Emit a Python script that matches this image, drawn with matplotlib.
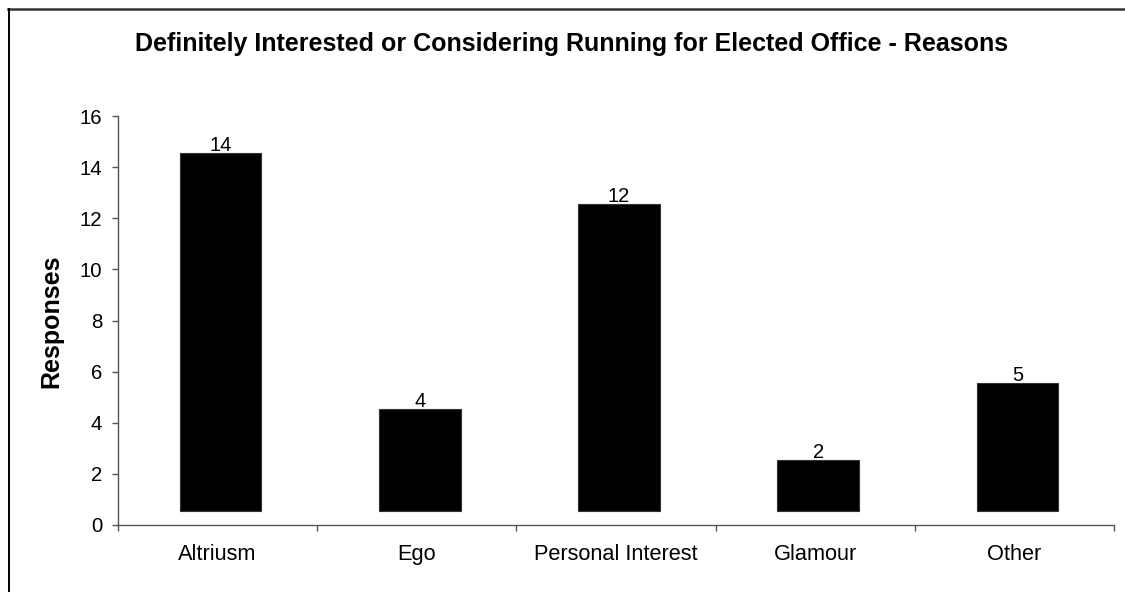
import matplotlib
matplotlib.use("Agg")
import matplotlib.pyplot as plt
from matplotlib.lines import Line2D

categories = ["Altriusm", "Ego", "Personal Interest", "Glamour", "Other"]
responses = [14, 4, 12, 2, 5]
y_ticks = [0, 2, 4, 6, 8, 10, 12, 14, 16]
title = "Definitely Interested or Considering Running for Elected Office - Reasons"
y_label = "Responses"

plt.rcParams["font.family"] = ["Liberation Sans", "DejaVu Sans"]

W, H, DPI = 1125, 592, 100
fig = plt.figure(figsize=(W / DPI, H / DPI), dpi=DPI)
ax = fig.add_axes([118 / W, 1 - 525 / H, (1114 - 118) / W, (525 - 116) / H])

# bars sit slightly above the baseline, as in the original workbook chart
base = 0.55
x = list(range(len(categories)))
ax.bar([xi + 0.015 for xi in x], responses, bottom=base, width=0.41,
       color="black", edgecolor="#333333", linewidth=0.8, zorder=2)
for xi, v in zip(x, responses):
    ax.text(xi + 0.015, v + base - 0.08, str(v), ha="center", va="bottom",
            fontsize=14.5, color="black", zorder=3)

ax.set_xlim(-0.5, len(categories) - 0.5)
ax.set_ylim(0, 16)
ax.set_yticks(y_ticks)
ax.set_yticklabels([str(t) for t in y_ticks])
ax.set_xticks(x)
ax.set_xticklabels(categories)
ax.set_xticks([i - 0.5 for i in range(len(categories) + 1)], minor=True)

for s in ("top", "right"):
    ax.spines[s].set_visible(False)
for s in ("left", "bottom"):
    ax.spines[s].set_color("#555555")
    ax.spines[s].set_linewidth(1.0)

ax.tick_params(axis="y", direction="out", length=4.3, width=1.0,
               color="#555555", labelsize=14.7, pad=7, labelcolor="black")
ax.tick_params(axis="x", which="major", length=0, labelsize=15.7, pad=14,
               labelcolor="black")
ax.tick_params(axis="x", which="minor", direction="out", length=4.3,
               width=1.0, color="#555555")

fig.text(51.5 / W, 1 - 321 / H, y_label, ha="center", va="center",
         rotation=90, fontsize=18, fontweight="bold")
fig.text(571.5 / W, 1 - 50.7 / H, title, ha="center", va="baseline",
         fontsize=18, fontweight="bold")

# chart frame (top and left edges)
fig.add_artist(Line2D([8 / W, 1.0], [1 - 8.5 / H, 1 - 8.5 / H],
                      transform=fig.transFigure, color="#333333", lw=1.8))
fig.add_artist(Line2D([8.5 / W, 8.5 / W], [0, 1 - 8.5 / H],
                      transform=fig.transFigure, color="black", lw=1.4))

fig.savefig("out.png", dpi=DPI)
